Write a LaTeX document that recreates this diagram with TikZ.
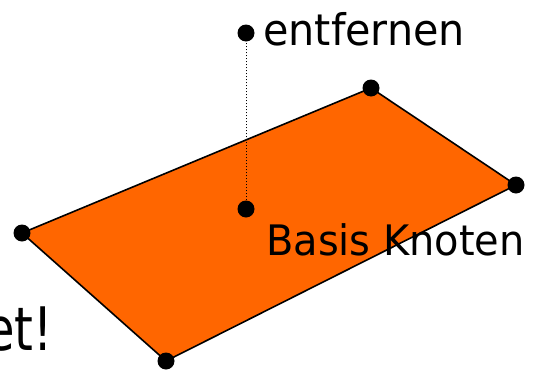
\documentclass[tikz,border=0pt]{standalone}
\usepackage{fontspec}
\setmainfont{DejaVu Sans}[FakeStretch=0.95]
\newfontfamily\schmal{DejaVu Sans}[FakeStretch=0.8]
\usepackage{xcolor}
\usetikzlibrary{positioning}
\definecolor{flaeche}{HTML}{FF6600}

\begin{document}
\begin{tikzpicture}[x=1pt, y=-1pt,
    knoten/.style={circle, fill=black, inner sep=0pt, minimum size=17pt},
    beschriftung/.style={inner sep=0pt, font=\fontsize{42}{50}\selectfont}]
    \useasboundingbox (0,0) rectangle (539,370);

    % 1. Eckpunkte der Fläche (Parallelogramm)
    \coordinate (links) at (22,233);
    \coordinate (oben) at (371,88);
    \coordinate (rechts) at (516,185);
    \coordinate (unten) at (166,361);
    \filldraw[fill=flaeche, draw=black, line width=1.6pt, line join=round]
        (links) -- (oben) -- (rechts) -- (unten) -- cycle;

    % 2. Knoten an den Ecken
    \node[knoten] (kLinks) at (links) {};
    \node[knoten] (kOben) at (oben) {};
    \node[knoten] (kRechts) at (rechts) {};
    \node[knoten] (kUnten) at (unten) {};

    % 3. Basis Knoten und der zu entfernende Knoten darüber
    \node[knoten] (basis) at (246,209) {};
    \node[knoten] (entf) at (246,33) {};
    \draw[line width=1pt, dash pattern=on 1pt off 2pt] (basis) -- (entf);

    % 4. Beschriftungen
    \node[beschriftung, font=\fontsize{43.5}{50}\selectfont, anchor=base west] (tEntf) at (263,45) {entfernen};
    \node[beschriftung, anchor=base west] (tBasis) at (266,255) {Basis Knoten};
    \node[inner sep=0pt, font=\schmal\fontsize{60}{70}\selectfont, anchor=base east] (tLinks) at (53,350) {et!};
\end{tikzpicture}
\end{document}
